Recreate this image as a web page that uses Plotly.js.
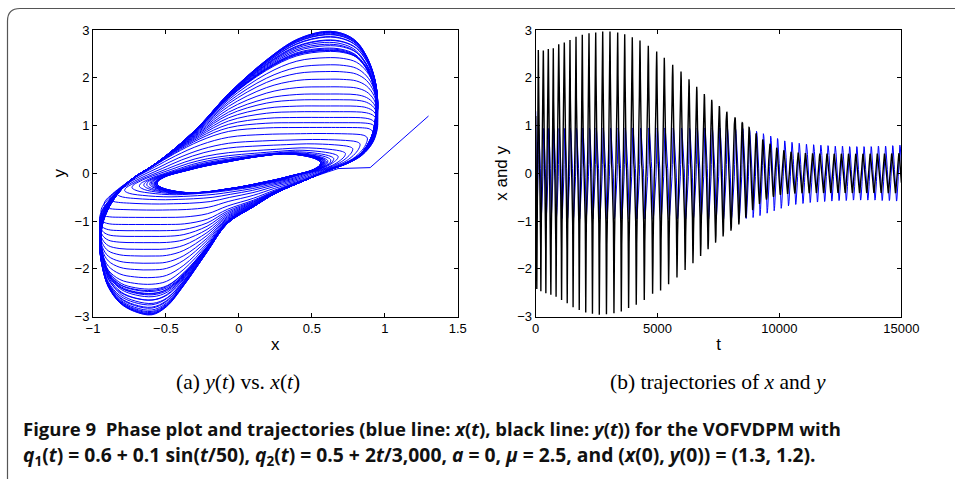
<!DOCTYPE html>
<html>
<head>
<meta charset="utf-8">
<script src="https://cdn.plot.ly/plotly-3.0.1.min.js"></script>
<style>html,body{margin:0;padding:0;background:#fff;}#chart{width:955px;height:479px;}</style>
</head>
<body>
<div id="chart"></div>
<script>
// ---- data ----
// times of the positive y(t) peaks (one per oscillation cycle)
const tPeak = [107,312,517,722,944,1173,1407,1654,1912,2187,2462,2749,3048,3364,3652,3963,4279,4620,4964,5276,5621,5962,6290,6606,6918,7221,7533,7837,8177,8477,8752,9039,9314,9613,9888,10180,10475,10770,11065,11360,11655,11950,12245,12540,12835,13130,13425,13720,14015,14310,14605,14900];
// positive y peak of each cycle
const yTop = [2.58,2.57,2.60,2.62,2.70,2.74,2.79,2.86,2.90,2.93,2.95,2.97,2.97,2.95,2.91,2.85,2.78,2.67,2.55,2.42,2.27,2.13,1.97,1.81,1.66,1.54,1.41,1.29,1.17,1.06,0.98,0.91,0.83,0.76,0.68,0.62,0.57,0.53,0.50,0.48,0.46,0.45,0.44,0.43,0.43,0.43,0.43,0.44,0.45,0.46,0.47,0.49];
// negative y peak following each positive peak
const yBot = [-2.47,-2.51,-2.54,-2.58,-2.65,-2.72,-2.80,-2.86,-2.91,-2.94,-2.96,-2.95,-2.93,-2.89,-2.82,-2.75,-2.65,-2.52,-2.45,-2.32,-2.18,-2.02,-1.88,-1.73,-1.59,-1.45,-1.32,-1.20,-1.07,-0.96,-0.87,-0.78,-0.70,-0.63,-0.56,-0.52,-0.49,-0.47,-0.45,-0.44,-0.43,-0.43,-0.42,-0.42,-0.42,-0.42,-0.43,-0.43,-0.44,-0.45,-0.46,-0.48];
// x amplitude of each cycle
const xAmp = [0.94,0.94,0.94,0.94,0.94,0.94,0.95,0.95,0.95,0.95,0.95,0.95,0.95,0.95,0.95,0.95,0.95,0.95,0.95,0.95,0.95,0.95,0.95,0.95,0.95,0.95,0.95,0.95,0.94,0.94,0.92,0.88,0.83,0.78,0.73,0.68,0.65,0.63,0.61,0.60,0.59,0.58,0.57,0.57,0.56,0.56,0.56,0.56,0.57,0.57,0.58,0.59];
// initial transient from (x(0), y(0)) = (1.3, 1.2)
const startT = [0, 5, 10];
const startX = [1.3, 0.9, 0.68];
const startY = [1.2, 0.12, 0.10];
const yBotFirst = -2.42;
// outermost and innermost loop shapes, clockwise from the top
const outerX = [0.60,0.72,0.81,0.88,0.93,0.955,0.95,0.92,0.85,0.75,0.64,0.46,0.25,0.10,-0.08,-0.22,-0.38,-0.50,-0.60,-0.72,-0.82,-0.90,-0.94,-0.96,-0.95,-0.90,-0.82,-0.72,-0.60,-0.45,-0.27,-0.07,0.19,0.40];
const outerY = [2.97,2.92,2.76,2.45,2.05,1.60,1.15,0.75,0.42,0.22,0.09,-0.14,-0.42,-0.70,-1.05,-1.65,-2.35,-2.80,-2.97,-2.90,-2.72,-2.38,-1.98,-1.50,-1.10,-0.70,-0.35,-0.08,0.15,0.50,1.00,1.67,2.37,2.80];
const innerX = [0.28,0.37,0.44,0.49,0.525,0.54,0.535,0.51,0.47,0.41,0.34,0.26,0.17,0.08,0.00,-0.08,-0.15,-0.22,-0.28,-0.37,-0.44,-0.49,-0.525,-0.54,-0.535,-0.51,-0.47,-0.41,-0.34,-0.26,-0.17,-0.07,0.04,0.16];
const innerY = [0.41,0.395,0.36,0.32,0.27,0.22,0.16,0.10,0.04,-0.01,-0.06,-0.12,-0.18,-0.24,-0.29,-0.33,-0.37,-0.395,-0.41,-0.395,-0.36,-0.32,-0.27,-0.22,-0.16,-0.10,-0.04,0.01,0.06,0.12,0.18,0.24,0.31,0.37];
// relative time spent on each step of the large loops (fast spikes, slow near y = 0)
const timeWeight = [0.35,0.35,0.4,0.45,0.55,0.7,0.9,1.2,1.5,1.8,1.9,1.8,1.5,1.2,0.9,0.6,0.45,0.35,0.35,0.35,0.4,0.45,0.55,0.7,0.9,1.2,1.5,1.8,1.9,1.8,1.5,1.2,0.9,0.5];
// tick labels
const xTicksA = [-1,-0.5,0,0.5,1,1.5];
const xTickTextA = ['\u22121','\u22120.5','0','0.5','1','1.5'];
const yTicks = [-3,-2,-1,0,1,2,3];
const yTickText = ['\u22123','\u22122','\u22121','0','1','2','3'];
const tTicks = [0,5000,10000,15000];
const tTickText = ['0','5000','10000','15000'];

// ---- build x(t), y(t) from the cycle table ----
const M = outerX.length;
const oTop = Math.max(...outerY), iTop = Math.max(...innerY);
const oX = Math.max(...outerX), iX = Math.max(...innerX);
const clamp = v => Math.max(0, Math.min(1, v));
function pt(i, xa, yt, yb){
  const wx = clamp((xa - iX)/(oX - iX));
  const A = outerY[i] >= 0 ? yt : -yb;
  const s = Math.sign(outerY[i]);
  const gy = s * A * (1 - Math.pow(1 - Math.abs(outerY[i])/oTop, oTop/A));
  const wy = clamp((A - iTop)/(1.0 - iTop));
  return [innerX[i] + wx*(outerX[i]-innerX[i]), innerY[i] + wy*(gy-innerY[i])];
}
function cumTimes(w){
  const c=[0]; for (let i=0;i<M;i++){ c.push(c[i] + 1 + w*(timeWeight[i]-1)); } return c;
}
const T = [], X = [], Y = [];
for (let j=0;j<startT.length;j++){T.push(startT[j]);X.push(startX[j]);Y.push(startY[j]);}
const t0 = startT[startT.length-1];
{
  const c = cumTimes(1);
  for (let i=11;i<M;i++){
    const t = t0 + (c[i]-c[10])/(c[M]-c[10])*(tPeak[0]-t0);
    const p = pt(i, xAmp[0], yTop[0], yBotFirst);
    T.push(t);X.push(p[0]);Y.push(p[1]);
  }
}
const tMax = 15000;
outer:
for (let k=0;k<tPeak.length;k++){
  const per = k < tPeak.length-1 ? tPeak[k+1]-tPeak[k] : tPeak[k]-tPeak[k-1];
  const ytNext = k < tPeak.length-1 ? yTop[k+1] : yTop[k];
  const c = cumTimes(clamp((yTop[k]-iTop)/(1.0-iTop)));
  for (let i=0;i<M;i++){
    const t = tPeak[k] + c[i]/c[M]*per;
    const p = pt(i, xAmp[k], i>=28 ? ytNext : yTop[k], yBot[k]);
    T.push(t);X.push(p[0]);Y.push(p[1]);
    if (t > tMax) break outer;
  }
}
const nStart = startT.length;
const PX = [], PY = [];
for (let j=nStart-1;j<T.length;j++){ if (T[j] <= tMax){PX.push(X[j]);PY.push(Y[j]);} }

const tickFont = {family:'Liberation Sans, Arial, sans-serif', size:13, color:'#000'};
const axBase = {ticks:'inside', ticklen:4, tickwidth:1, tickcolor:'#000', showline:true, mirror:'ticks',
  linecolor:'#000', linewidth:1, showgrid:false, zeroline:false, tickfont:tickFont};

const traces = [
  {x:startX, y:startY, xaxis:'x', yaxis:'y', mode:'lines', type:'scatter', line:{color:'#0000ff', width:1}, hoverinfo:'skip'},
  {x:PX, y:PY, xaxis:'x', yaxis:'y', mode:'lines', type:'scatter', line:{color:'#0000ff', width:1, shape:'spline', smoothing:1}, hoverinfo:'skip'},
  {x:T, y:X, xaxis:'x2', yaxis:'y2', mode:'lines', type:'scatter', line:{color:'#0000ff', width:1}, hoverinfo:'skip'},
  {x:T, y:Y, xaxis:'x2', yaxis:'y2', mode:'lines', type:'scatter', line:{color:'#000000', width:1.4}, hoverinfo:'skip'}
];

const W = 955, H = 479;
const fx = v => v/W, fy = v => 1 - v/H;
const titleFont = {family:'Liberation Sans, Arial, sans-serif', size:17, color:'#000'};
const capFont = {family:'Liberation Serif, Times New Roman, serif', size:21.5, color:'#000'};
const figFont1 = {family:'Open Sans, Noto Sans, sans-serif', size:18.5, color:'#111'};
const figFont2 = {family:'Open Sans, Noto Sans, sans-serif', size:19.3, color:'#111'};
const layout = {
  width:W, height:H, margin:{l:0,r:0,t:0,b:0}, paper_bgcolor:'#fff', plot_bgcolor:'#fff', showlegend:false,
  xaxis: Object.assign({}, axBase, {domain:[fx(93), fx(457.7)], range:[-1,1.5], anchor:'y', tickvals:xTicksA, ticktext:xTickTextA, title:{text:'x', font:titleFont, standoff:2}}),
  yaxis: Object.assign({}, axBase, {domain:[fy(316.7), fy(30)], range:[-3,3], anchor:'x', tickvals:yTicks, ticktext:yTickText, title:{text:'y', font:titleFont, standoff:4}}),
  xaxis2: Object.assign({}, axBase, {domain:[fx(535.7), fx(901.3)], range:[0,15000], anchor:'y2', tickvals:tTicks, ticktext:tTickText, title:{text:'t', font:titleFont, standoff:2}}),
  yaxis2: Object.assign({}, axBase, {domain:[fy(316.7), fy(30)], range:[-3,3], anchor:'x2', tickvals:yTicks, ticktext:yTickText, title:{text:'x and y', font:titleFont, standoff:5}}),
  annotations:[
    {xref:'paper', yref:'paper', x:fx(238), y:fy(382), xanchor:'center', yanchor:'middle', showarrow:false,
     text:'(a) <i>y</i>(<i>t</i>) vs. <i>x</i>(<i>t</i>)', font:capFont},
    {xref:'paper', yref:'paper', x:fx(718), y:fy(382), xanchor:'center', yanchor:'middle', showarrow:false,
     text:'(b) trajectories of <i>x</i> and <i>y</i>', font:capFont},
    {xref:'paper', yref:'paper', x:fx(21), y:fy(428), xanchor:'left', yanchor:'middle', showarrow:false,
     text:'<b>Figure 9\u00a0 Phase plot and trajectories (blue line: <i>x</i>(<i>t</i>), black line: <i>y</i>(<i>t</i>)) for the VOFVDPM with</b>',
     font:figFont1},
    {xref:'paper', yref:'paper', x:fx(21), y:fy(455), xanchor:'left', yanchor:'middle', showarrow:false,
     text:'<b><i>q</i><sub>1</sub>(<i>t</i>) = 0.6 + 0.1 sin(<i>t</i>/50), <i>q</i><sub>2</sub>(<i>t</i>) = 0.5 + 2<i>t</i>/3,000, <i>a</i> = 0, <i>\u03bc</i> = 2.5, and (<i>x</i>(0), <i>y</i>(0)) = (1.3, 1.2).</b>',
     font:figFont2}
  ],
  shapes:[
    {type:'path', xref:'paper', yref:'paper', line:{color:'#555', width:1.2},
     path:'M '+fx(7.5)+','+fy(479)+' L '+fx(7.5)+','+fy(21)+' Q '+fx(7.5)+','+fy(8.5)+' '+fx(20)+','+fy(8.5)+' L '+fx(955)+','+fy(8.5)}
  ]
};
Plotly.newPlot('chart', traces, layout, {staticPlot:true, displayModeBar:false});
</script>
</body>
</html>
